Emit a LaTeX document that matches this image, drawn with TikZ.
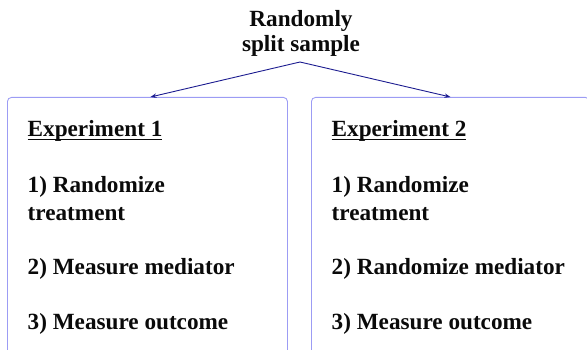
\documentclass[tikz,border=0pt]{standalone}
\usepackage{fontspec}
\setmainfont{Liberation Serif}[BoldFont={Liberation Serif Bold}]
\usetikzlibrary{arrows.meta}
\definecolor{boxblue}{HTML}{9C9CF4}
\definecolor{arrowblue}{HTML}{1C1C90}
\definecolor{txt}{HTML}{0A0A0A}
\newcommand\myul[1]{\setbox0\hbox{#1}\rlap{\rule[-3.6pt]{\wd0}{1.4pt}}\box0}
\tikzset{
  panel/.style={draw=boxblue, line width=0.9pt, rounded corners=4pt, inner sep=0pt},
  item/.style={anchor=base west, inner sep=0pt, text=txt, font=\rmfamily\bfseries\fontsize{23.2}{27}\selectfont},
  ttl/.style={anchor=base, inner sep=0pt, text=txt, font=\rmfamily\bfseries\fontsize{23.2}{27}\selectfont},
  conn/.style={draw=arrowblue, line width=0.9pt, -{Stealth[length=6pt,width=4.5pt]}}
}
\begin{document}
\begin{tikzpicture}[x=1pt,y=-1pt]
\useasboundingbox (0,0) rectangle (587,350);
\clip (0,0) rectangle (587,350);
\node[panel, minimum width=280pt, minimum height=280pt, anchor=north west] (box1) at (7,97) {};
\node[panel, minimum width=278pt, minimum height=280pt, anchor=north west] (box2) at (311,97) {};
\node[ttl] (t1) at (301,26.5) {Randomly};
\node[ttl] (t2) at (301,52) {split sample};
\coordinate (apex) at (300,62);
\draw[conn] (apex) -- ([xshift=3pt]box1.north);
\draw[conn] (apex) -- (box2.north);
% left
\node[item] (a0) at (27.5,136.7) {\myul{Experiment 1}};
\node[item] (a1) at (27.5,193) {1) Randomize};
\node[item] (a1b) at (27.5,220.7) {treatment};
\node[item] (a2) at (27.5,275) {2) Measure mediator};
\node[item] (a3) at (27.5,329) {3) Measure outcome};
% right
\node[item] (b0) at (331.5,136.7) {\myul{Experiment 2}};
\node[item] (b1) at (331.5,193) {1) Randomize};
\node[item] (b1b) at (331.5,220.7) {treatment};
\node[item] (b2) at (331.5,275) {2) Randomize mediator};
\node[item] (b3) at (331.5,329) {3) Measure outcome};
\end{tikzpicture}
\end{document}
